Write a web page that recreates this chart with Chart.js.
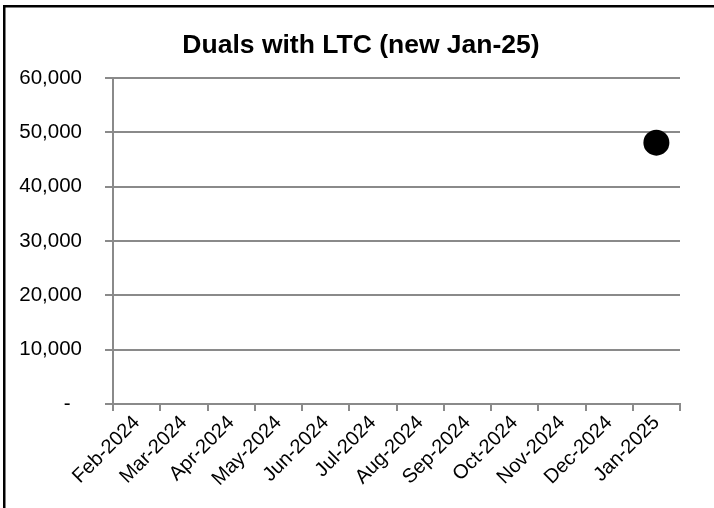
<!DOCTYPE html>
<html>
<head>
<meta charset="utf-8">
<script src="https://cdn.jsdelivr.net/npm/chart.js@4/dist/chart.umd.min.js"></script>
<style>
  html, body { margin: 0; padding: 0; background: #ffffff; }
  #wrap { position: relative; width: 714px; height: 508px; }
</style>
</head>
<body>
<div id="wrap"><canvas id="chart" width="714" height="508"></canvas></div>
<script>
// Monthly categories on the x axis
const months = ['Feb-2024', 'Mar-2024', 'Apr-2024', 'May-2024', 'Jun-2024', 'Jul-2024',
                'Aug-2024', 'Sep-2024', 'Oct-2024', 'Nov-2024', 'Dec-2024', 'Jan-2025'];
// Duals with LTC count; only the newest month is reported
const dualsWithLTC = [null, null, null, null, null, null, null, null, null, null, null, 48100];
// Y axis range and step
const yTicks = [0, 10000, 20000, 30000, 40000, 50000, 60000];
const chartTitle = 'Duals with LTC (new Jan-25)';

const gridGray = '#8a8a8a';
const tickFont = { family: '"Liberation Sans", Arial, sans-serif', size: 20.5 };
const xTickFont = { family: '"Liberation Sans", Arial, sans-serif', size: 20 };

// Frame lines along the top and left edge, and the chart title
const framePlugin = {
  id: 'frame',
  afterDraw(chart) {
    const ctx = chart.ctx;
    ctx.save();
    ctx.fillStyle = '#000000';
    ctx.fillRect(3, 5, 711, 2.5);
    ctx.fillRect(3, 5, 2.5, 503);
    ctx.font = 'bold 26.5px "Liberation Sans", Arial, sans-serif';
    ctx.textAlign = 'center';
    ctx.textBaseline = 'alphabetic';
    ctx.fillText(chartTitle, 361, 53);
    ctx.restore();
  }
};

new Chart(document.getElementById('chart'), {
  type: 'line',
  data: {
    labels: months,
    datasets: [{
      data: dualsWithLTC,
      showLine: false,
      pointRadius: 13,
      pointHoverRadius: 13,
      pointBackgroundColor: '#000000',
      pointBorderColor: '#000000',
      pointBorderWidth: 0
    }]
  },
  options: {
    responsive: false,
    animation: false,
    devicePixelRatio: 1,
    layout: { padding: { top: 78, right: 34, bottom: 0, left: 0 } },
    plugins: {
      legend: { display: false },
      tooltip: { enabled: false },
      title: { display: false }
    },
    scales: {
      x: {
        offset: true,
        afterFit(scale) { scale.height = 104; },
        grid: {
          offset: true,
          drawOnChartArea: false,
          drawTicks: true,
          tickLength: 7,
          color: gridGray,
          lineWidth: 2
        },
        border: { display: true, color: gridGray, width: 2 },
        ticks: {
          color: '#000000',
          font: xTickFont,
          minRotation: 45,
          maxRotation: 45,
          autoSkip: false,
          padding: 0
        }
      },
      y: {
        min: 0,
        max: 60000,
        afterFit(scale) { scale.width = 113; },
        afterBuildTicks(scale) { scale.ticks = yTicks.map(v => ({ value: v })); },
        grid: {
          color: gridGray,
          lineWidth: 2,
          tickLength: 8
        },
        border: { display: true, color: gridGray, width: 2 },
        ticks: {
          color: '#000000',
          font: tickFont,
          padding: 23,
          // accounting style: zero shown as a dash set in from the right
          callback: v => v === 0 ? '-  ' : v.toLocaleString('en-US')
        }
      }
    }
  },
  plugins: [framePlugin]
});
</script>
</body>
</html>
